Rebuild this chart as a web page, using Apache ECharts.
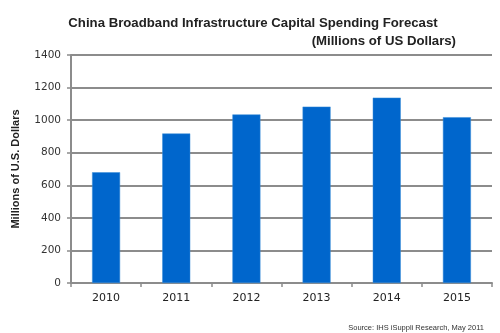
<!DOCTYPE html>
<html><head><meta charset="utf-8">
<script src="https://cdn.jsdelivr.net/npm/echarts@6/dist/echarts.min.js"></script>
<style>html,body{margin:0;padding:0;background:#fff}#c{width:500px;height:333px}</style>
</head><body><div id="c"></div>
<script>
var categories = ['2010','2011','2012','2013','2014','2015'];
var spending = [680, 918, 1035, 1083, 1138, 1018];
var yTicks = [0, 200, 400, 600, 800, 1000, 1200, 1400];

var chart = echarts.init(document.getElementById('c'));
chart.setOption({
  animation: false,
  backgroundColor: '#fff',
  title: [
    {text: 'China Broadband Infrastructure Capital Spending Forecast', left: 248, top: 12, textAlign: 'center',
     textStyle: {fontFamily: 'Liberation Sans', fontSize: 13.2, fontWeight: 'bold', color: '#222'}},
    {text: '(Millions of US Dollars)', right: 39, top: 30,
     textStyle: {fontFamily: 'Liberation Sans', fontSize: 13.2, fontWeight: 'bold', color: '#222'}},
    {text: 'Source: IHS iSuppli Research, May 2011', right: 11, top: 319,
     textStyle: {fontFamily: 'Liberation Sans', fontSize: 7.5, fontWeight: 'normal', color: '#333'}}
  ],
  grid: {left: 71, right: 8, top: 55, bottom: 50},
  xAxis: {
    type: 'category', data: categories, boundaryGap: true,
    axisLine: {lineStyle: {color: '#8c8c8c', width: 2}},
    axisTick: {show: true, length: 4, lineStyle: {color: '#8c8c8c', width: 1.5}},
    axisLabel: {margin: 10, fontFamily: 'DejaVu Sans', fontSize: 11, color: '#222'}
  },
  yAxis: {
    type: 'value', min: 0, max: 1400, interval: 200,
    name: 'Millions of U.S. Dollars', nameLocation: 'middle', nameGap: 50, nameRotate: 90,
    nameTextStyle: {fontFamily: 'Liberation Sans', fontSize: 11, fontWeight: 'bold', color: '#222'},
    axisLine: {show: true, lineStyle: {color: '#8c8c8c', width: 2}},
    axisTick: {show: true, length: 4, lineStyle: {color: '#8c8c8c', width: 1.5}},
    axisLabel: {margin: 10, fontFamily: 'DejaVu Sans', fontSize: 10.5, color: '#333',
      formatter: function(v){ return yTicks.indexOf(v) >= 0 ? String(v) : ''; }},
    splitLine: {show: true, lineStyle: {color: '#8c8c8c', width: 2}}
  },
  series: [{
    type: 'bar', data: spending, barWidth: 28,
    itemStyle: {color: '#0066CC', borderColor: '#3a8fd8', borderWidth: 0.5}
  }]
});
</script></body></html>
